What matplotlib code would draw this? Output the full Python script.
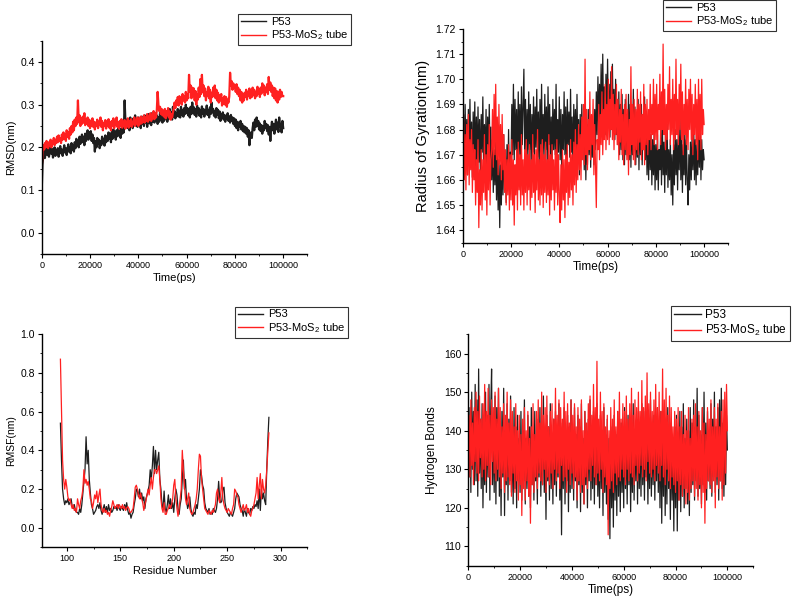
import numpy as np
import matplotlib
matplotlib.use('Agg')
from matplotlib import pyplot as plt
from matplotlib.ticker import MultipleLocator

plt.rcParams['font.family'] = ['Liberation Sans', 'DejaVu Sans']
plt.rcParams['mathtext.default'] = 'regular'

# ===============================================================
# RMSD (nm), 0..100000 ps
rmsd_p53 = [
	0.10, 0.16, 0.18, 0.195, 0.175, 0.19, 0.2, 0.182, 0.195, 0.178, 0.19, 0.205, 0.185, 0.196, 0.176, 0.19, 0.2, 0.18, 0.194, 0.185,
	0.198, 0.178, 0.19, 0.203, 0.186, 0.195, 0.18, 0.192, 0.205, 0.188, 0.198, 0.182, 0.195, 0.207, 0.19, 0.2, 0.186, 0.21, 0.195, 0.205,
	0.19, 0.212, 0.198, 0.22, 0.205, 0.215, 0.2, 0.225, 0.208, 0.218, 0.23, 0.212, 0.225, 0.205, 0.232, 0.215, 0.228, 0.24, 0.218, 0.235,
	0.222, 0.238, 0.215, 0.23, 0.21, 0.222, 0.19, 0.215, 0.2, 0.222, 0.208, 0.218, 0.198, 0.215, 0.205, 0.225, 0.21, 0.22, 0.204, 0.228,
	0.212, 0.225, 0.215, 0.235, 0.22, 0.23, 0.212, 0.236, 0.22, 0.242, 0.225, 0.235, 0.218, 0.24, 0.226, 0.245, 0.228, 0.238, 0.222, 0.245,
	0.232, 0.25, 0.235, 0.31, 0.26, 0.248, 0.265, 0.245, 0.26, 0.24, 0.27, 0.25, 0.262, 0.245, 0.268, 0.252, 0.275, 0.255, 0.262, 0.248,
	0.27, 0.252, 0.265, 0.245, 0.272, 0.255, 0.268, 0.25, 0.275, 0.258, 0.27, 0.248, 0.265, 0.278, 0.256, 0.27, 0.252, 0.28, 0.26, 0.272,
	0.258, 0.28, 0.262, 0.275, 0.255, 0.27, 0.26, 0.282, 0.264, 0.276, 0.258, 0.272, 0.262, 0.285, 0.266, 0.278, 0.26, 0.274, 0.268, 0.29,
	0.27, 0.282, 0.265, 0.295, 0.272, 0.285, 0.268, 0.28, 0.275, 0.29, 0.272, 0.286, 0.27, 0.295, 0.276, 0.288, 0.272, 0.292, 0.278, 0.3,
	0.28, 0.292, 0.275, 0.288, 0.27, 0.295, 0.278, 0.305, 0.282, 0.294, 0.276, 0.29, 0.272, 0.298, 0.28, 0.292, 0.274, 0.288, 0.27, 0.296,
	0.278, 0.29, 0.272, 0.286, 0.282, 0.298, 0.276, 0.288, 0.27, 0.294, 0.278, 0.305, 0.282, 0.29, 0.274, 0.285, 0.27, 0.292, 0.276, 0.288,
	0.268, 0.284, 0.262, 0.278, 0.27, 0.282, 0.265, 0.276, 0.26, 0.274, 0.268, 0.28, 0.262, 0.272, 0.258, 0.276, 0.262, 0.27, 0.255, 0.268,
	0.25, 0.265, 0.245, 0.26, 0.24, 0.258, 0.248, 0.262, 0.242, 0.255, 0.238, 0.25, 0.235, 0.248, 0.232, 0.245, 0.225, 0.24, 0.205, 0.23,
	0.235, 0.222, 0.245, 0.258, 0.24, 0.265, 0.248, 0.27, 0.25, 0.262, 0.242, 0.256, 0.238, 0.252, 0.232, 0.25, 0.24, 0.262, 0.245, 0.255,
	0.238, 0.252, 0.23, 0.248, 0.215, 0.245, 0.26, 0.24, 0.255, 0.232, 0.25, 0.265, 0.242, 0.258, 0.236, 0.27, 0.248, 0.255, 0.235, 0.262,
	0.245]
rmsd_mos2 = [
	0.15, 0.19, 0.205, 0.195, 0.21, 0.2, 0.215, 0.205, 0.198, 0.212, 0.204, 0.218, 0.2, 0.215, 0.208, 0.222, 0.205, 0.218, 0.21, 0.225,
	0.212, 0.228, 0.215, 0.222, 0.21, 0.23, 0.218, 0.235, 0.22, 0.23, 0.215, 0.24, 0.225, 0.235, 0.22, 0.245, 0.23, 0.25, 0.235, 0.26,
	0.24, 0.265, 0.25, 0.27, 0.255, 0.31, 0.26, 0.275, 0.25, 0.268, 0.255, 0.272, 0.258, 0.28, 0.252, 0.266, 0.256, 0.27, 0.25, 0.265,
	0.245, 0.262, 0.25, 0.268, 0.248, 0.26, 0.242, 0.258, 0.25, 0.265, 0.245, 0.26, 0.252, 0.27, 0.248, 0.262, 0.24, 0.256, 0.25, 0.264,
	0.244, 0.26, 0.25, 0.266, 0.246, 0.258, 0.24, 0.262, 0.25, 0.268, 0.245, 0.26, 0.252, 0.27, 0.248, 0.258, 0.244, 0.262, 0.25, 0.266,
	0.246, 0.258, 0.25, 0.264, 0.244, 0.26, 0.252, 0.268, 0.246, 0.262, 0.25, 0.266, 0.248, 0.26, 0.254, 0.27, 0.25, 0.264, 0.256, 0.27,
	0.25, 0.265, 0.255, 0.272, 0.256, 0.268, 0.26, 0.275, 0.258, 0.27, 0.262, 0.278, 0.26, 0.272, 0.265, 0.28, 0.262, 0.276, 0.268, 0.285,
	0.266, 0.28, 0.27, 0.288, 0.33, 0.3, 0.285, 0.295, 0.278, 0.29, 0.275, 0.286, 0.272, 0.29, 0.268, 0.285, 0.275, 0.292, 0.27, 0.284,
	0.265, 0.278, 0.27, 0.282, 0.29, 0.305, 0.292, 0.31, 0.3, 0.318, 0.298, 0.32, 0.305, 0.316, 0.3, 0.325, 0.31, 0.32, 0.305, 0.33,
	0.31, 0.325, 0.315, 0.37, 0.33, 0.345, 0.315, 0.34, 0.32, 0.338, 0.31, 0.332, 0.3, 0.325, 0.312, 0.34, 0.318, 0.36, 0.325, 0.37,
	0.33, 0.345, 0.32, 0.338, 0.31, 0.33, 0.32, 0.342, 0.315, 0.335, 0.305, 0.328, 0.318, 0.34, 0.322, 0.345, 0.315, 0.335, 0.31, 0.328,
	0.305, 0.322, 0.31, 0.325, 0.298, 0.315, 0.302, 0.32, 0.3, 0.318, 0.295, 0.312, 0.305, 0.32, 0.375, 0.345, 0.355, 0.335, 0.35, 0.34,
	0.345, 0.33, 0.348, 0.325, 0.34, 0.32, 0.335, 0.31, 0.33, 0.305, 0.325, 0.31, 0.328, 0.318, 0.335, 0.312, 0.33, 0.32, 0.338, 0.315,
	0.332, 0.318, 0.34, 0.322, 0.335, 0.315, 0.33, 0.32, 0.342, 0.325, 0.335, 0.318, 0.34, 0.326, 0.35, 0.33, 0.345, 0.322, 0.34, 0.33,
	0.348, 0.325, 0.365, 0.335, 0.352, 0.33, 0.345, 0.32, 0.34, 0.315, 0.338, 0.31, 0.332, 0.305, 0.33, 0.312, 0.335, 0.318, 0.33, 0.32,
	0.32]

# Radius of gyration (nm)
rg_p53 = [
	1.672, 1.686, 1.664, 1.69, 1.668, 1.684, 1.662, 1.688, 1.67, 1.692, 1.666, 1.683, 1.661, 1.687, 1.669, 1.691, 1.665, 1.685, 1.663, 1.689,
	1.667, 1.684, 1.66, 1.686, 1.671, 1.693, 1.664, 1.682, 1.668, 1.688, 1.662, 1.685, 1.67, 1.69, 1.666, 1.681, 1.66, 1.676, 1.655, 1.672,
	1.658, 1.675, 1.652, 1.67, 1.648, 1.668, 1.641, 1.666, 1.65, 1.672, 1.654, 1.678, 1.656, 1.67, 1.651, 1.674, 1.659, 1.68, 1.657, 1.671,
	1.666, 1.69, 1.67, 1.698, 1.668, 1.692, 1.672, 1.688, 1.664, 1.695, 1.67, 1.69, 1.666, 1.697, 1.674, 1.689, 1.704, 1.672, 1.692, 1.668,
	1.688, 1.668, 1.695, 1.672, 1.69, 1.664, 1.686, 1.671, 1.693, 1.667, 1.689, 1.673, 1.696, 1.669, 1.687, 1.665, 1.692, 1.671, 1.698, 1.67,
	1.686, 1.668, 1.694, 1.672, 1.689, 1.666, 1.697, 1.674, 1.69, 1.668, 1.685, 1.664, 1.692, 1.672, 1.688, 1.67, 1.698, 1.666, 1.684, 1.671,
	1.693, 1.668, 1.688, 1.663, 1.686, 1.672, 1.695, 1.67, 1.689, 1.665, 1.692, 1.674, 1.687, 1.669, 1.696, 1.671, 1.685, 1.664, 1.69, 1.672,
	1.688, 1.666, 1.694, 1.67, 1.684, 1.662, 1.686, 1.668, 1.69, 1.672, 1.68, 1.664, 1.684, 1.66, 1.682, 1.666, 1.688, 1.67, 1.685, 1.665,
	1.683, 1.669, 1.679, 1.666, 1.688, 1.672, 1.695, 1.678, 1.701, 1.68, 1.698, 1.684, 1.706, 1.679, 1.71, 1.683, 1.697, 1.678, 1.702, 1.681,
	1.708, 1.684, 1.698, 1.677, 1.703, 1.68, 1.706, 1.682, 1.696, 1.676, 1.7, 1.678, 1.692, 1.674, 1.695, 1.67, 1.69, 1.672, 1.694, 1.668,
	1.688, 1.666, 1.692, 1.67, 1.686, 1.672, 1.694, 1.668, 1.69, 1.665, 1.687, 1.67, 1.696, 1.672, 1.689, 1.666, 1.684, 1.669, 1.692, 1.664,
	1.688, 1.67, 1.69, 1.666, 1.686, 1.672, 1.693, 1.668, 1.684, 1.662, 1.68, 1.66, 1.683, 1.664, 1.678, 1.658, 1.676, 1.662, 1.68, 1.656,
	1.674, 1.66, 1.678, 1.656, 1.672, 1.664, 1.68, 1.658, 1.684, 1.662, 1.675, 1.655, 1.678, 1.662, 1.682, 1.657, 1.672, 1.66, 1.676, 1.654,
	1.67, 1.65, 1.674, 1.658, 1.68, 1.662, 1.676, 1.656, 1.678, 1.664, 1.685, 1.66, 1.678, 1.655, 1.674, 1.662, 1.68, 1.658, 1.676, 1.66,
	1.65, 1.67, 1.656, 1.675, 1.66, 1.678, 1.664, 1.682, 1.66, 1.676, 1.658, 1.674, 1.662, 1.68, 1.665, 1.684, 1.66, 1.676, 1.664, 1.672,
	1.668]
rg_mos2 = [
	1.668, 1.684, 1.66, 1.678, 1.656, 1.682, 1.662, 1.686, 1.658, 1.676, 1.664, 1.68, 1.655, 1.674, 1.66, 1.672, 1.65, 1.668, 1.655, 1.676,
	1.641, 1.664, 1.65, 1.672, 1.648, 1.668, 1.655, 1.678, 1.652, 1.67, 1.646, 1.674, 1.656, 1.682, 1.65, 1.668, 1.672, 1.688, 1.665, 1.694,
	1.67, 1.698, 1.668, 1.685, 1.662, 1.69, 1.666, 1.682, 1.66, 1.686, 1.664, 1.678, 1.655, 1.672, 1.65, 1.668, 1.654, 1.674, 1.648, 1.67,
	1.652, 1.676, 1.65, 1.668, 1.642, 1.666, 1.654, 1.672, 1.648, 1.675, 1.656, 1.67, 1.65, 1.678, 1.654, 1.668, 1.648, 1.672, 1.655, 1.676,
	1.65, 1.67, 1.656, 1.674, 1.648, 1.668, 1.653, 1.678, 1.655, 1.67, 1.647, 1.672, 1.656, 1.68, 1.652, 1.668, 1.65, 1.674, 1.654, 1.676,
	1.649, 1.67, 1.655, 1.675, 1.651, 1.668, 1.654, 1.678, 1.646, 1.67, 1.652, 1.674, 1.656, 1.668, 1.648, 1.672, 1.655, 1.676, 1.65, 1.67,
	1.654, 1.643, 1.666, 1.648, 1.672, 1.652, 1.668, 1.645, 1.67, 1.655, 1.674, 1.65, 1.667, 1.653, 1.676, 1.656, 1.67, 1.65, 1.675, 1.658,
	1.68, 1.655, 1.674, 1.66, 1.682, 1.664, 1.678, 1.66, 1.685, 1.668, 1.69, 1.666, 1.708, 1.67, 1.688, 1.664, 1.684, 1.672, 1.695, 1.668,
	1.686, 1.674, 1.692, 1.662, 1.682, 1.666, 1.649, 1.676, 1.672, 1.69, 1.668, 1.686, 1.674, 1.695, 1.67, 1.688, 1.676, 1.698, 1.672, 1.69,
	1.676, 1.7, 1.674, 1.692, 1.68, 1.705, 1.676, 1.694, 1.672, 1.69, 1.678, 1.698, 1.674, 1.692, 1.668, 1.688, 1.675, 1.696, 1.67, 1.686,
	1.666, 1.69, 1.672, 1.694, 1.668, 1.688, 1.662, 1.684, 1.67, 1.705, 1.674, 1.69, 1.668, 1.692, 1.666, 1.688, 1.672, 1.696, 1.67, 1.69,
	1.675, 1.695, 1.668, 1.686, 1.672, 1.698, 1.666, 1.69, 1.674, 1.692, 1.67, 1.688, 1.676, 1.698, 1.672, 1.69, 1.678, 1.7, 1.674, 1.694,
	1.676, 1.698, 1.672, 1.69, 1.68, 1.702, 1.674, 1.695, 1.68, 1.714, 1.678, 1.696, 1.672, 1.69, 1.676, 1.698, 1.68, 1.705, 1.674, 1.692,
	1.678, 1.7, 1.672, 1.694, 1.676, 1.708, 1.678, 1.692, 1.674, 1.698, 1.68, 1.706, 1.676, 1.695, 1.67, 1.69, 1.678, 1.7, 1.674, 1.692,
	1.672, 1.696, 1.68, 1.7, 1.676, 1.694, 1.67, 1.69, 1.678, 1.698, 1.674, 1.692, 1.668, 1.7, 1.676, 1.694, 1.672, 1.7, 1.678, 1.688,
	1.682]

# RMSF (nm), residues 94..289
rmsf_p53 = [
	0.54, 0.35, 0.2, 0.15, 0.12, 0.14, 0.13, 0.15, 0.12, 0.13, 0.15, 0.11, 0.1, 0.12, 0.09, 0.08,
	0.08, 0.07, 0.1, 0.08, 0.12, 0.18, 0.24, 0.3, 0.47, 0.33, 0.4, 0.25, 0.18, 0.12, 0.1, 0.07,
	0.08, 0.09, 0.11, 0.12, 0.1, 0.13, 0.09, 0.07, 0.1, 0.12, 0.08, 0.11, 0.08, 0.12, 0.09, 0.1,
	0.08, 0.09, 0.11, 0.1, 0.11, 0.09, 0.12, 0.1, 0.09, 0.11, 0.1, 0.09, 0.12, 0.1, 0.13, 0.09,
	0.07, 0.08, 0.05, 0.07, 0.08, 0.12, 0.15, 0.2, 0.19, 0.16, 0.2, 0.15, 0.18, 0.14, 0.16, 0.1,
	0.15, 0.17, 0.19, 0.22, 0.3, 0.25, 0.32, 0.42, 0.28, 0.4, 0.3, 0.35, 0.39, 0.25, 0.2, 0.12,
	0.1, 0.19, 0.1, 0.08, 0.12, 0.17, 0.1, 0.15, 0.1, 0.13, 0.08, 0.15, 0.2, 0.17, 0.1, 0.07,
	0.12, 0.15, 0.25, 0.35, 0.2, 0.25, 0.14, 0.1, 0.12, 0.16, 0.1, 0.07, 0.06, 0.08, 0.07, 0.12,
	0.1, 0.15, 0.2, 0.3, 0.27, 0.22, 0.2, 0.13, 0.1, 0.09, 0.08, 0.1, 0.07, 0.08, 0.07, 0.1,
	0.09, 0.08, 0.1, 0.15, 0.24, 0.15, 0.13, 0.14, 0.2, 0.21, 0.13, 0.1, 0.08, 0.07, 0.06, 0.08,
	0.07, 0.06, 0.08, 0.1, 0.15, 0.18, 0.17, 0.16, 0.12, 0.1, 0.09, 0.06, 0.1, 0.08, 0.06, 0.1,
	0.08, 0.07, 0.1, 0.09, 0.11, 0.1, 0.12, 0.11, 0.14, 0.1, 0.2, 0.09, 0.2, 0.15, 0.18, 0.14,
	0.12, 0.3, 0.45, 0.57]
rmsf_mos2 = [
	0.87, 0.6, 0.35, 0.25, 0.2, 0.25, 0.21, 0.16, 0.14, 0.15, 0.12, 0.1, 0.12, 0.09, 0.1, 0.08,
	0.15, 0.12, 0.1, 0.14, 0.16, 0.2, 0.3, 0.23, 0.25, 0.22, 0.24, 0.2, 0.15, 0.14, 0.1, 0.13,
	0.17, 0.15, 0.19, 0.13, 0.17, 0.2, 0.12, 0.09, 0.08, 0.1, 0.08, 0.09, 0.07, 0.08, 0.06, 0.09,
	0.11, 0.14, 0.12, 0.1, 0.11, 0.12, 0.1, 0.12, 0.11, 0.1, 0.12, 0.1, 0.11, 0.09, 0.1, 0.11,
	0.1, 0.08, 0.08, 0.09, 0.1, 0.15, 0.21, 0.22, 0.2, 0.17, 0.15, 0.18, 0.15, 0.13, 0.09, 0.12,
	0.14, 0.17, 0.2, 0.17, 0.22, 0.26, 0.2, 0.26, 0.3, 0.3, 0.28, 0.3, 0.32, 0.25, 0.15, 0.1,
	0.08, 0.13, 0.07, 0.07, 0.09, 0.1, 0.12, 0.1, 0.12, 0.15, 0.22, 0.25, 0.15, 0.1, 0.06, 0.1,
	0.15, 0.2, 0.4, 0.3, 0.22, 0.15, 0.12, 0.15, 0.18, 0.1, 0.08, 0.07, 0.08, 0.1, 0.12, 0.15,
	0.2, 0.3, 0.38, 0.37, 0.25, 0.2, 0.15, 0.1, 0.09, 0.08, 0.07, 0.09, 0.08, 0.07, 0.09, 0.08,
	0.1, 0.12, 0.18, 0.2, 0.15, 0.13, 0.18, 0.26, 0.15, 0.12, 0.1, 0.09, 0.08, 0.1, 0.09, 0.08,
	0.07, 0.1, 0.12, 0.2, 0.19, 0.17, 0.16, 0.12, 0.1, 0.08, 0.1, 0.12, 0.09, 0.1, 0.12, 0.08,
	0.1, 0.07, 0.06, 0.09, 0.1, 0.12, 0.15, 0.18, 0.26, 0.15, 0.22, 0.28, 0.15, 0.25, 0.2, 0.18,
	0.22, 0.3, 0.4, 0.49]
residue_start = 94

# Hydrogen bonds
hb_p53 = [
	140, 128, 146, 124, 150, 130, 145, 126, 152, 127, 148, 123, 156, 129, 143, 125, 147, 120, 138, 126,
	150, 124, 144, 128, 152, 122, 145, 156, 126, 141, 124, 149, 121, 146, 127, 151, 123, 138, 118, 145,
	128, 151, 118, 140, 126, 147, 122, 143, 127, 149, 124, 139, 121, 146, 125, 141, 120, 144, 127, 138,
	124, 145, 122, 140, 127, 148, 121, 138, 125, 144, 123, 141, 120, 146, 126, 139, 122, 145, 127, 137,
	121, 143, 128, 146, 123, 140, 126, 149, 124, 138, 117, 144, 127, 141, 122, 147, 125, 139, 121, 143,
	126, 145, 123, 140, 128, 147, 122, 139, 113, 142, 125, 146, 121, 138, 127, 144, 119, 141, 124, 148,
	125, 140, 122, 146, 127, 139, 120, 144, 126, 141, 119, 147, 124, 138, 121, 145, 126, 140, 120, 143,
	127, 148, 122, 139, 125, 145, 121, 141, 126, 147, 123, 138, 120, 144, 125, 140, 118, 146, 124, 139,
	121, 143, 117, 138, 112, 141, 120, 137, 115, 144, 122, 139, 118, 145, 123, 140, 119, 142, 124, 137,
	120, 146, 125, 139, 121, 144, 126, 141, 119, 138, 124, 147, 122, 140, 127, 143, 121, 145, 125, 139,
	123, 147, 126, 140, 122, 145, 128, 142, 121, 139, 125, 148, 123, 141, 126, 144, 122, 140, 127, 146,
	124, 138, 120, 145, 116, 140, 123, 143, 118, 139, 121, 146, 125, 137, 117, 142, 122, 138, 114, 141,
	120, 144, 114, 139, 122, 145, 119, 141, 123, 147, 120, 138, 125, 143, 121, 140, 118, 146, 124, 142,
	126, 148, 122, 141, 127, 151, 123, 144, 125, 139, 121, 146, 126, 150, 124, 142, 122, 145, 127, 140,
	125, 147, 123, 143, 128, 150, 124, 141, 126, 146, 122, 148, 127, 151, 125, 142, 123, 140, 126, 144,
	135]
hb_mos2 = [
	135, 144, 128, 148, 131, 142, 126, 146, 132, 150, 129, 145, 127, 149, 133, 143, 128, 147, 130, 152,
	127, 145, 131, 151, 128, 144, 126, 148, 132, 146, 129, 150, 127, 143, 130, 151, 128, 146, 125, 141,
	129, 147, 124, 144, 127, 150, 128, 142, 126, 148, 123, 145, 129, 141, 124, 147, 127, 140, 122, 144,
	126, 139, 118, 143, 125, 146, 122, 140, 127, 145, 123, 138, 116, 141, 126, 147, 124, 139, 128, 145,
	125, 148, 129, 142, 127, 150, 126, 144, 130, 146, 124, 149, 128, 141, 126, 145, 129, 147, 125, 143,
	130, 151, 127, 144, 129, 148, 125, 146, 131, 143, 127, 150, 128, 145, 124, 147, 130, 142, 126, 148,
	129, 144, 125, 147, 128, 141, 122, 146, 127, 143, 124, 148, 126, 140, 121, 145, 128, 142, 125, 147,
	130, 149, 127, 144, 131, 152, 128, 146, 126, 158, 129, 143, 127, 150, 130, 145, 124, 147, 128, 141,
	126, 144, 113, 140, 125, 146, 127, 143, 124, 148, 129, 141, 126, 145, 128, 150, 127, 143, 130, 147,
	128, 145, 126, 149, 130, 143, 127, 147, 129, 151, 128, 144, 126, 148, 131, 146, 127, 150, 129, 145,
	131, 153, 128, 146, 130, 149, 127, 155, 132, 147, 129, 150, 128, 145, 130, 148, 127, 152, 131, 146,
	129, 150, 127, 145, 131, 156, 128, 148, 126, 151, 130, 144, 127, 149, 125, 146, 128, 141, 126, 145,
	124, 143, 127, 146, 122, 141, 126, 145, 123, 139, 125, 144, 121, 140, 124, 146, 122, 138, 125, 143,
	127, 144, 123, 147, 125, 141, 122, 145, 126, 140, 120, 146, 124, 142, 116, 139, 125, 146, 127, 143,
	126, 148, 124, 141, 127, 146, 120, 143, 128, 147, 125, 141, 127, 145, 122, 148, 126, 150, 129, 152,
	140]

labels = ['P53', 'P53-MoS$_2$ tube']
black = '#1e1e1e'
red = '#ff2020'

# ===============================================================
def style_axes(ax, xlim, ylim, xmaj, xmin, ymaj, ymin):
	ax.set_xlim(*xlim)
	ax.set_ylim(*ylim)
	ax.xaxis.set_major_locator(MultipleLocator(xmaj))
	ax.xaxis.set_minor_locator(MultipleLocator(xmin))
	ax.yaxis.set_major_locator(MultipleLocator(ymaj))
	ax.yaxis.set_minor_locator(MultipleLocator(ymin))
	for s in ['top', 'right']:
		ax.spines[s].set_visible(False)
	for s in ['left', 'bottom']:
		ax.spines[s].set_linewidth(1.0)
	ax.tick_params(which='major', direction='out', length=3, width=0.8, pad=2)
	ax.tick_params(axis='x', labelsize=6.5)
	ax.tick_params(axis='y', labelsize=7.5)
	ax.tick_params(which='minor', direction='out', length=1.5, width=0.6)


def add_legend(ax, anchor, fs=8):
	leg = ax.legend(labels, loc='upper right', bbox_to_anchor=anchor,
		bbox_transform=fig.transFigure, fontsize=fs, frameon=True, fancybox=False,
		edgecolor='black', borderpad=0.25, labelspacing=0.15, handlelength=2.3,
		handletextpad=0.4, borderaxespad=0)
	leg.get_frame().set_linewidth(0.8)
	for ln in leg.get_lines():
		ln.set_linewidth(1.0)
	return leg


def plot_pair(ax, x1, y1, x2, y2, lw=0.7):
	ax.plot(x1, y1, color=black, linewidth=lw)
	ax.plot(x2, y2, color=red, linewidth=lw)


fig = plt.figure(figsize=(7.93, 6.03), dpi=100)

# RMSD
ax1 = fig.add_axes([0.0526, 0.5788, 0.335, 0.3537])
t1 = np.linspace(0, 100000, len(rmsd_p53))
t2 = np.linspace(0, 100000, len(rmsd_mos2))
plot_pair(ax1, t1, rmsd_p53, t2, rmsd_mos2, lw=1.6)
style_axes(ax1, (0, 110000), (-0.05, 0.45), 20000, 10000, 0.1, 0.05)
ax1.set_xlabel('Time(ps)', fontsize=8, labelpad=2)
ax1.set_ylabel('RMSD(nm)', fontsize=8, labelpad=3)
add_legend(ax1, (0.4426, 0.9768))

# Radius of gyration
ax2 = fig.add_axes([0.5835, 0.5975, 0.3349, 0.3544])
t1 = np.linspace(0, 100000, len(rg_p53))
t2 = np.linspace(0, 100000, len(rg_mos2))
plot_pair(ax2, t1, rg_p53, t2, rg_mos2, lw=0.9)
style_axes(ax2, (0, 110000), (1.635, 1.72), 20000, 10000, 0.01, 0.005)
ax2.set_xlabel('Time(ps)', fontsize=8.5, labelpad=2)
ax2.set_ylabel('Radius of Gyration(nm)', fontsize=10.5, labelpad=4)
add_legend(ax2, (0.9786, 1.0))

# RMSF
ax3 = fig.add_axes([0.0526, 0.0924, 0.335, 0.3537])
res = np.arange(residue_start, residue_start + len(rmsf_p53))
plot_pair(ax3, res, rmsf_p53, res, rmsf_mos2, lw=0.9)
style_axes(ax3, (76.5, 325), (-0.1, 1.0), 50, 25, 0.2, 0.1)
ax3.set_xlabel('Residue Number', fontsize=8, labelpad=2)
ax3.set_ylabel('RMSF(nm)', fontsize=7.5, labelpad=3)
add_legend(ax3, (0.4388, 0.4914))

# Hydrogen bonds
ax4 = fig.add_axes([0.5905, 0.0619, 0.3594, 0.3837])
t1 = np.linspace(0, 100000, len(hb_p53))
t2 = np.linspace(0, 100000, len(hb_mos2))
plot_pair(ax4, t1, hb_p53, t2, hb_mos2, lw=0.9)
style_axes(ax4, (0, 110000), (105, 165), 20000, 10000, 10, 5)
ax4.set_xlabel('Time(ps)', fontsize=8.5, labelpad=2)
ax4.set_ylabel('Hydrogen Bonds', fontsize=8.5, labelpad=4)
add_legend(ax4, (0.9962, 0.4925), fs=8.5)

fig.savefig('out.png', dpi=100)
